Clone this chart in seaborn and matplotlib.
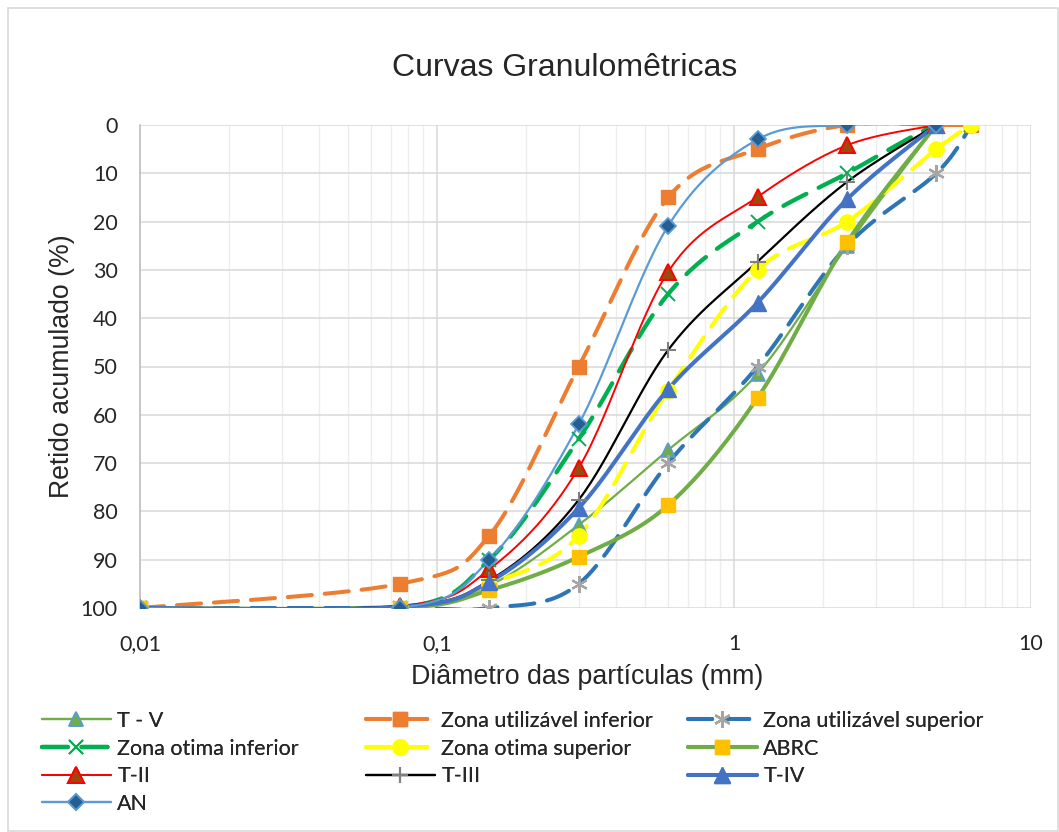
import numpy as np
import pandas as pd
import matplotlib
matplotlib.use("Agg")
import matplotlib.pyplot as plt
from matplotlib.lines import Line2D
from matplotlib.patches import Rectangle
from matplotlib.ticker import FixedLocator, FixedFormatter, LogLocator, NullFormatter
import seaborn as sns

# ---------------- data ----------------
sizes_zone = [0.01, 0.075, 0.15, 0.3, 0.6, 1.2, 2.4, 4.8, 6.3]
sizes_sample = [0.01, 0.075, 0.15, 0.3, 0.6, 1.2, 2.4, 4.8]

zona_util_inf = [100, 95, 85, 50, 15, 5, 0, 0, 0]
zona_util_sup = [100, 100, 100, 95, 70, 50, 25, 10, 0]
zona_otima_inf = [100, 100, 90, 65, 35, 20, 10, 0, 0]
zona_otima_sup = [100, 100, 95, 85, 55, 30, 20, 5, 0]

t_v = [100, 99.5, 95.3, 82.8, 67.3, 51.5, 25, 0]
abrc = [100, 100, 96.3, 89.4, 78.7, 56.5, 24.3, 0]
t_ii = [100, 99.6, 92, 71, 30.4, 14.9, 4.2, 0]
t_iii = [100, 99.6, 94.3, 77.6, 46.6, 28.3, 11.8, 0]
t_iv = [100, 99.8, 94.6, 79.3, 54.7, 36.8, 15.4, 0]
an = [100, 100, 90, 62, 20.9, 3, 0, 0]

x_ticks = [0.01, 0.1, 1, 10]
x_tick_labels = ["0,01", "0,1", "1", "10"]
y_ticks = list(range(0, 101, 10))

DASH = (0, (6, 3.2))
series = [
    ("T - V", sizes_sample, t_v,
     dict(color="#70AD47", lw=1.6, ls="-", marker="^", mfc="#70AD47", mec="#5B9BD5", ms=10, mew=1.2)),
    ("Zona utilizável inferior", sizes_zone, zona_util_inf,
     dict(color="#ED7D31", lw=2.9, ls=DASH, marker="s", mfc="#ED7D31", mec="#ED7D31", ms=10.5, mew=1)),
    ("Zona utilizável superior", sizes_zone, zona_util_sup,
     dict(color="#2E75B6", lw=2.9, ls=DASH, marker=(6, 2, 0), mfc="#A5A5A5", mec="#A5A5A5", ms=12, mew=1.6)),
    ("Zona otima inferior", sizes_zone, zona_otima_inf,
     dict(color="#00B050", lw=3.1, ls=DASH, marker="x", mfc="#00B050", mec="#00B050", ms=10, mew=1.4)),
    ("Zona otima superior", sizes_zone, zona_otima_sup,
     dict(color="#FFFF00", lw=2.9, ls=DASH, marker="o", mfc="#FFFF00", mec="#FFFF00", ms=11, mew=1)),
    ("ABRC", sizes_sample, abrc,
     dict(color="#70AD47", lw=2.9, ls="-", marker="s", mfc="#FFC000", mec="#FFC000", ms=10.5, mew=1)),
    ("T-II", sizes_sample, t_ii,
     dict(color="#FF0000", lw=1.4, ls="-", marker="^", mfc="#9E480E", mec="#FF0000", ms=11, mew=1.4)),
    ("T-III", sizes_sample, t_iii,
     dict(color="#000000", lw=1.6, ls="-", marker="+", mfc="#7F7F7F", mec="#7F7F7F", ms=12, mew=1.5)),
    ("T-IV", sizes_sample, t_iv,
     dict(color="#4472C4", lw=2.9, ls="-", marker="^", mfc="#4472C4", mec="#4472C4", ms=11, mew=1)),
    ("AN", sizes_sample, an,
     dict(color="#5B9BD5", lw=1.6, ls="-", marker="D", mfc="#255E91", mec="#5B9BD5", ms=8, mew=1.3)),
]


def smooth(xs, ys, n=30):
    """Excel-like smoothed line (Catmull-Rom Bezier) in log-x space."""
    lx = np.log10(np.asarray(xs, float))
    y = np.asarray(ys, float)
    P = np.column_stack([lx, y])
    P = np.vstack([P[0], P, P[-1]])
    out = []
    t = np.linspace(0, 1, n)[:, None]
    for i in range(1, len(P) - 2):
        p0, p1, p2, p3 = P[i - 1], P[i], P[i + 1], P[i + 2]
        c1 = p1 + (p2 - p0) / 6.0
        c2 = p2 - (p3 - p1) / 6.0
        seg = ((1 - t) ** 3) * p1 + 3 * ((1 - t) ** 2) * t * c1 + 3 * (1 - t) * t ** 2 * c2 + t ** 3 * p2
        out.append(seg if i == 1 else seg[1:])
    out = np.vstack(out)
    return 10 ** out[:, 0], out[:, 1]


sns.set_theme(style="white")
plt.rcParams["font.family"] = ["Liberation Sans", "DejaVu Sans"]

fig = plt.figure(figsize=(10.59, 8.32), dpi=100)
fig.patch.set_facecolor("white")
ax = fig.add_axes([140 / 1059, 1 - 608 / 832, (1031 - 140) / 1059, (608 - 125) / 832])

ax.set_xscale("log")
ax.set_xlim(0.01, 10)
ax.set_ylim(100, 0)

ax.xaxis.set_major_locator(FixedLocator(x_ticks))
ax.xaxis.set_major_formatter(FixedFormatter(x_tick_labels))
ax.xaxis.set_minor_locator(LogLocator(base=10, subs=np.arange(2, 10)))
ax.xaxis.set_minor_formatter(NullFormatter())
ax.set_yticks(y_ticks)
ax.grid(which="major", color="#D9D9D9", lw=1.1)
ax.grid(which="minor", axis="x", color="#EDEDED", lw=1.0)
ax.set_axisbelow(True)
for s in ["top", "right", "bottom"]:
    ax.spines[s].set_visible(False)
ax.spines["left"].set_color("#BFBFBF")
ax.spines["left"].set_linewidth(1.2)
ax.tick_params(which="both", length=0)
ax.tick_params(axis="y", pad=16, labelsize=15.5)
ax.tick_params(axis="x", pad=19, labelsize=15.5)
for lab in ax.get_xticklabels() + ax.get_yticklabels():
    lab.set_fontfamily(["Lato", "DejaVu Sans"])

handles = {}
for name, xs, ys, st in series:
    sx, sy = smooth(xs, ys)
    df_line = pd.DataFrame({"x": sx, "y": sy})
    sns.lineplot(data=df_line, x="x", y="y", ax=ax, sort=False, estimator=None,
                 color=st["color"], lw=st["lw"], legend=False, zorder=2)
    line = ax.lines[-1]
    line.set_linestyle(st["ls"])
    line.set_solid_capstyle("round")
    line.set_dash_capstyle("round")
    df_pts = pd.DataFrame({"x": xs, "y": ys})
    ax.plot(df_pts["x"], df_pts["y"], ls="none", marker=st["marker"], ms=st["ms"],
            mfc=st["mfc"], mec=st["mec"], mew=st["mew"], zorder=3)
    handles[name] = Line2D([0], [0], color=st["color"], lw=st["lw"], ls=st["ls"],
                           marker=st["marker"], ms=st["ms"], mfc=st["mfc"], mec=st["mec"],
                           mew=st["mew"], dash_capstyle="round")

ax.set_xlabel("")
ax.set_ylabel("")

fig.text(565 / 1059, 1 - 68 / 832, "Curvas Granulomêtricas", ha="center", va="center", fontsize=23)
fig.text(587 / 1059, 1 - 677 / 832, "Diâmetro das partículas (mm)", ha="center", va="center", fontsize=19.3)
fig.text(62 / 1059, 1 - 366 / 832, "Retido acumulado (%)", ha="center", va="center",
         rotation=90, fontsize=19.2)

# legend: three columns placed like the original (row-wise order)
columns = [
    (42, ["T - V", "Zona otima inferior", "T-II", "AN"]),
    (366, ["Zona utilizável inferior", "Zona otima superior", "T-III"]),
    (688, ["Zona utilizável superior", "ABRC", "T-IV"]),
]
for xpix, names in columns:
    lg = fig.legend([handles[k] for k in names], names, loc="upper left",
                    bbox_to_anchor=(xpix / 1059, 1 - 711 / 832), ncol=1, frameon=False,
                    handlelength=3.2, handletextpad=0.3,
                    labelspacing=0.35, borderaxespad=0, borderpad=0,
                    prop={"family": ["Lato", "DejaVu Sans"], "size": 15.5})
    fig.add_artist(lg)

fig.add_artist(Rectangle((8 / 1059, 1 / 832), (1058 - 8) / 1059, (831 - 8) / 832,
                         transform=fig.transFigure, fill=False, edgecolor="#D9D9D9", lw=1.2))

fig.savefig("out.png", dpi=100)
